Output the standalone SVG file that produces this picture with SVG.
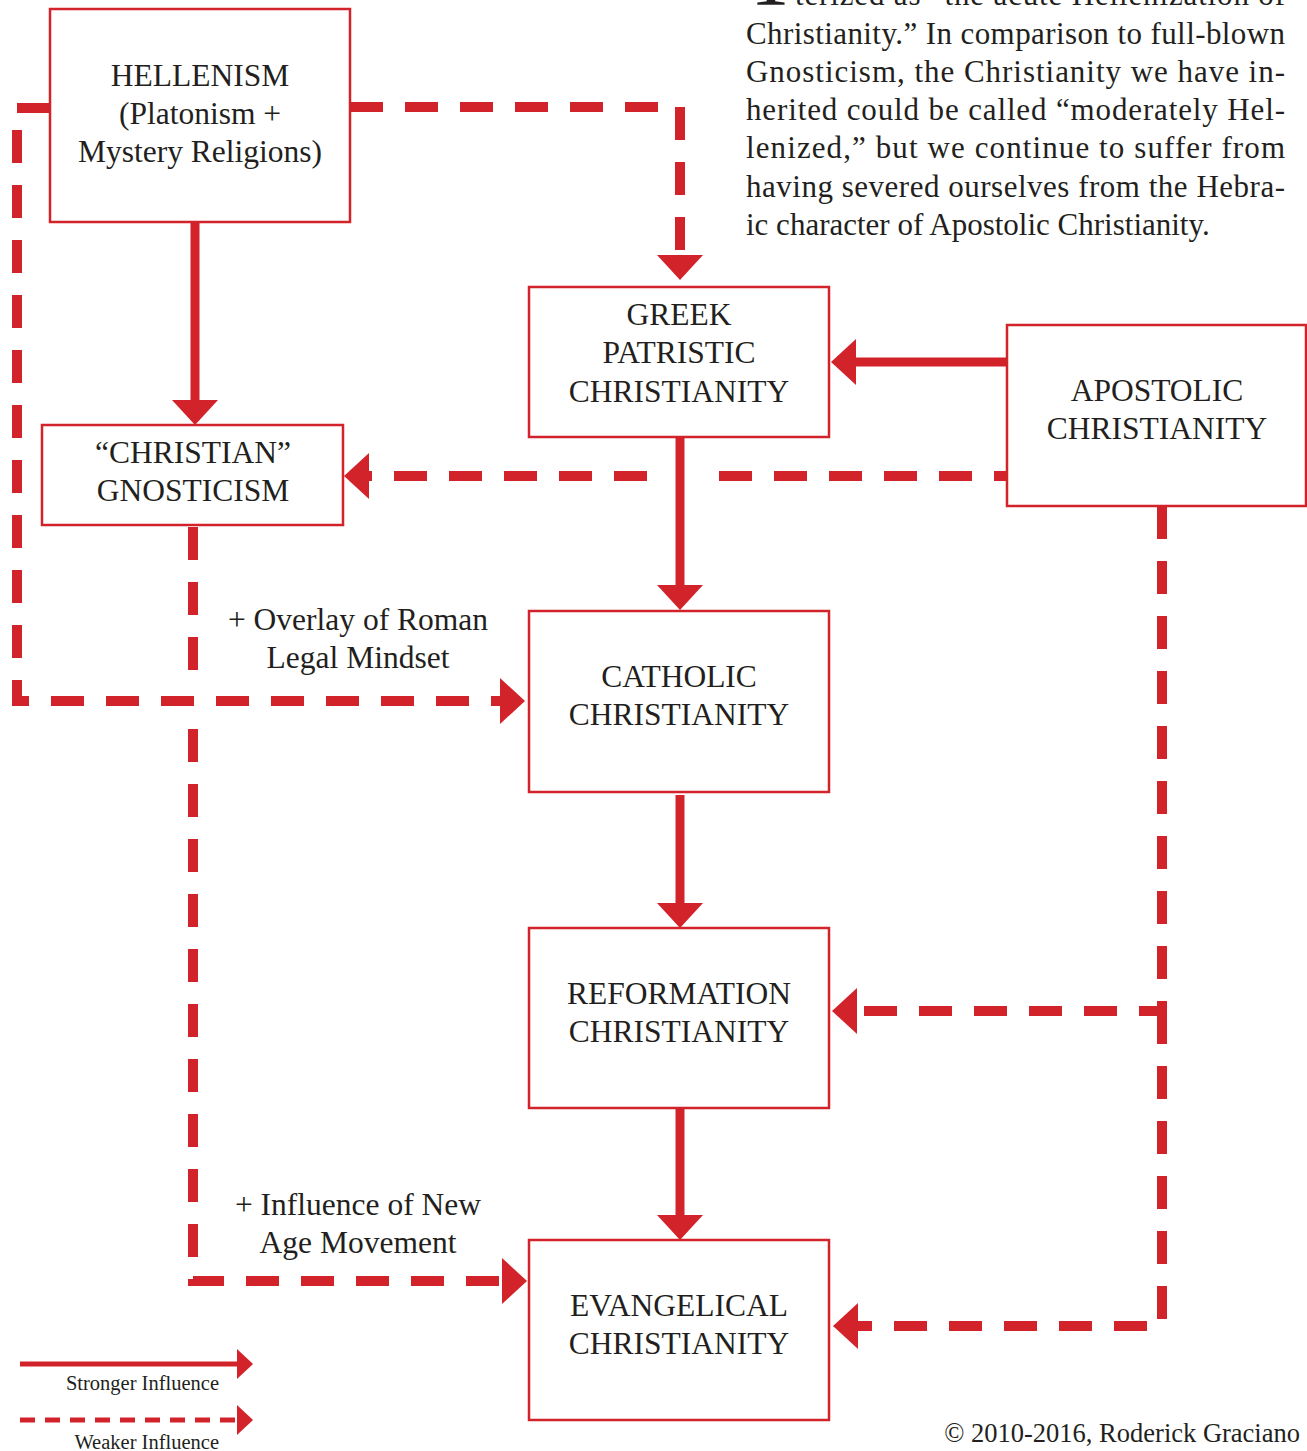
<svg xmlns="http://www.w3.org/2000/svg" width="1307" height="1451" viewBox="0 0 1307 1451">
<defs>
<style>
.box{fill:#fff;stroke:#d2232a;stroke-width:2.5}
.t{font-family:"Liberation Serif","Times New Roman",serif;font-size:31.5px;fill:#231f20;text-anchor:middle}
.p{font-family:"Liberation Serif","Times New Roman",serif;font-size:31px;fill:#231f20}
.solid{fill:none;stroke:#d2232a;stroke-width:9}
.dash{fill:none;stroke:#d2232a;stroke-width:10;stroke-dasharray:33 22;stroke-linejoin:miter}
.lsolid{fill:none;stroke:#d2232a;stroke-width:5}
.ldash{fill:none;stroke:#d2232a;stroke-width:5;stroke-dasharray:15 10}
.leg{font-family:"Liberation Serif","Times New Roman",serif;font-size:20.5px;fill:#231f20}
</style>
<marker id="ah" markerUnits="userSpaceOnUse" viewBox="0 0 25 46" refX="0" refY="23" markerWidth="25" markerHeight="46" orient="auto">
<path d="M0,0 L25,23 L0,46 Z" fill="#d2232a"/>
</marker>
<marker id="ahs" markerUnits="userSpaceOnUse" viewBox="0 0 16 30" refX="0" refY="15" markerWidth="16" markerHeight="30" orient="auto">
<path d="M0,0 L16,15 L0,30 Z" fill="#d2232a"/>
</marker>
</defs>
<rect width="1307" height="1451" fill="#fff"/>

<g id="paragraph">
<text class="p" x="771" y="5" text-anchor="middle" style="font-size:90px">T</text>
<text class="p" x="795" y="5" textLength="490" lengthAdjust="spacing">terized as “the acute Hellenization of</text>
<text class="p" x="746" y="44" textLength="539" lengthAdjust="spacing">Christianity.” In comparison to full-blown</text>
<text class="p" x="746" y="82" textLength="539" lengthAdjust="spacing">Gnosticism, the Christianity we have in-</text>
<text class="p" x="746" y="120" textLength="539" lengthAdjust="spacing">herited could be called “moderately Hel-</text>
<text class="p" x="746" y="158" textLength="539" lengthAdjust="spacing">lenized,” but we continue to suffer from</text>
<text class="p" x="746" y="197" textLength="539" lengthAdjust="spacing">having severed ourselves from the Hebra-</text>
<text class="p" x="746" y="235">ic character of Apostolic Christianity.</text>
</g>

<g id="connectors">
<!-- solid -->
<path class="solid" d="M195,222 V400" marker-end="url(#ah)"/>
<path class="solid" d="M1007,362 H856" marker-end="url(#ah)"/>
<path class="solid" d="M680,437 V585" marker-end="url(#ah)"/>
<path class="solid" d="M680,795 V903" marker-end="url(#ah)"/>
<path class="solid" d="M680,1108 V1215" marker-end="url(#ah)"/>
<!-- dashed -->
<path class="dash" d="M350,107 H680 V255" marker-end="url(#ah)"/>
<path class="dash" d="M50,108 H17 V701 H500" marker-end="url(#ah)"/>
<path class="dash" d="M719,476 H1007"/>
<path class="dash" d="M647,476 H369" marker-end="url(#ah)"/>
<path class="dash" d="M193,527 V677"/>
<path class="dash" d="M193,729 V1281 H502" marker-end="url(#ah)"/>
<path class="dash" d="M1162,506 V1011 H857" marker-end="url(#ah)"/>
<path class="dash" d="M1162,1011 V1326 H858" marker-end="url(#ah)"/>
</g>

<g id="hellenism">
<rect class="box" x="50" y="9" width="300" height="213"/>
<text class="t" x="200" y="86">HELLENISM</text>
<text class="t" x="200" y="124">(Platonism +</text>
<text class="t" x="200" y="162">Mystery Religions)</text>
</g>
<g id="greek">
<rect class="box" x="529" y="287" width="300" height="150"/>
<text class="t" x="679" y="325">GREEK</text>
<text class="t" x="679" y="363">PATRISTIC</text>
<text class="t" x="679" y="402">CHRISTIANITY</text>
</g>
<g id="apostolic">
<rect class="box" x="1007" y="325" width="299" height="181"/>
<text class="t" x="1157" y="401">APOSTOLIC</text>
<text class="t" x="1157" y="439">CHRISTIANITY</text>
</g>
<g id="gnosticism">
<rect class="box" x="42" y="425" width="301" height="100"/>
<text class="t" x="193" y="463">“CHRISTIAN”</text>
<text class="t" x="193" y="501">GNOSTICISM</text>
</g>
<g id="catholic">
<rect class="box" x="529" y="611" width="300" height="181"/>
<text class="t" x="679" y="687">CATHOLIC</text>
<text class="t" x="679" y="725">CHRISTIANITY</text>
</g>
<g id="reformation">
<rect class="box" x="529" y="928" width="300" height="180"/>
<text class="t" x="679" y="1004">REFORMATION</text>
<text class="t" x="679" y="1042">CHRISTIANITY</text>
</g>
<g id="evangelical">
<rect class="box" x="529" y="1240" width="300" height="180"/>
<text class="t" x="679" y="1316">EVANGELICAL</text>
<text class="t" x="679" y="1354">CHRISTIANITY</text>
</g>

<g id="labels">
<text class="t" x="358" y="630">+ Overlay of Roman</text>
<text class="t" x="358" y="668">Legal Mindset</text>
<text class="t" x="358" y="1215">+ Influence of New</text>
<text class="t" x="358" y="1253">Age Movement</text>
</g>

<g id="legend">
<path class="lsolid" d="M20,1364 H237" marker-end="url(#ahs)"/>
<text class="leg" x="219" y="1390" text-anchor="end">Stronger Influence</text>
<path class="ldash" d="M20,1420 H237" marker-end="url(#ahs)"/>
<text class="leg" x="219" y="1449" text-anchor="end">Weaker Influence</text>
</g>

<text id="copyright" class="p" x="1300" y="1442" text-anchor="end" style="font-size:26.5px">© 2010-2016, Roderick Graciano</text>
</svg>
